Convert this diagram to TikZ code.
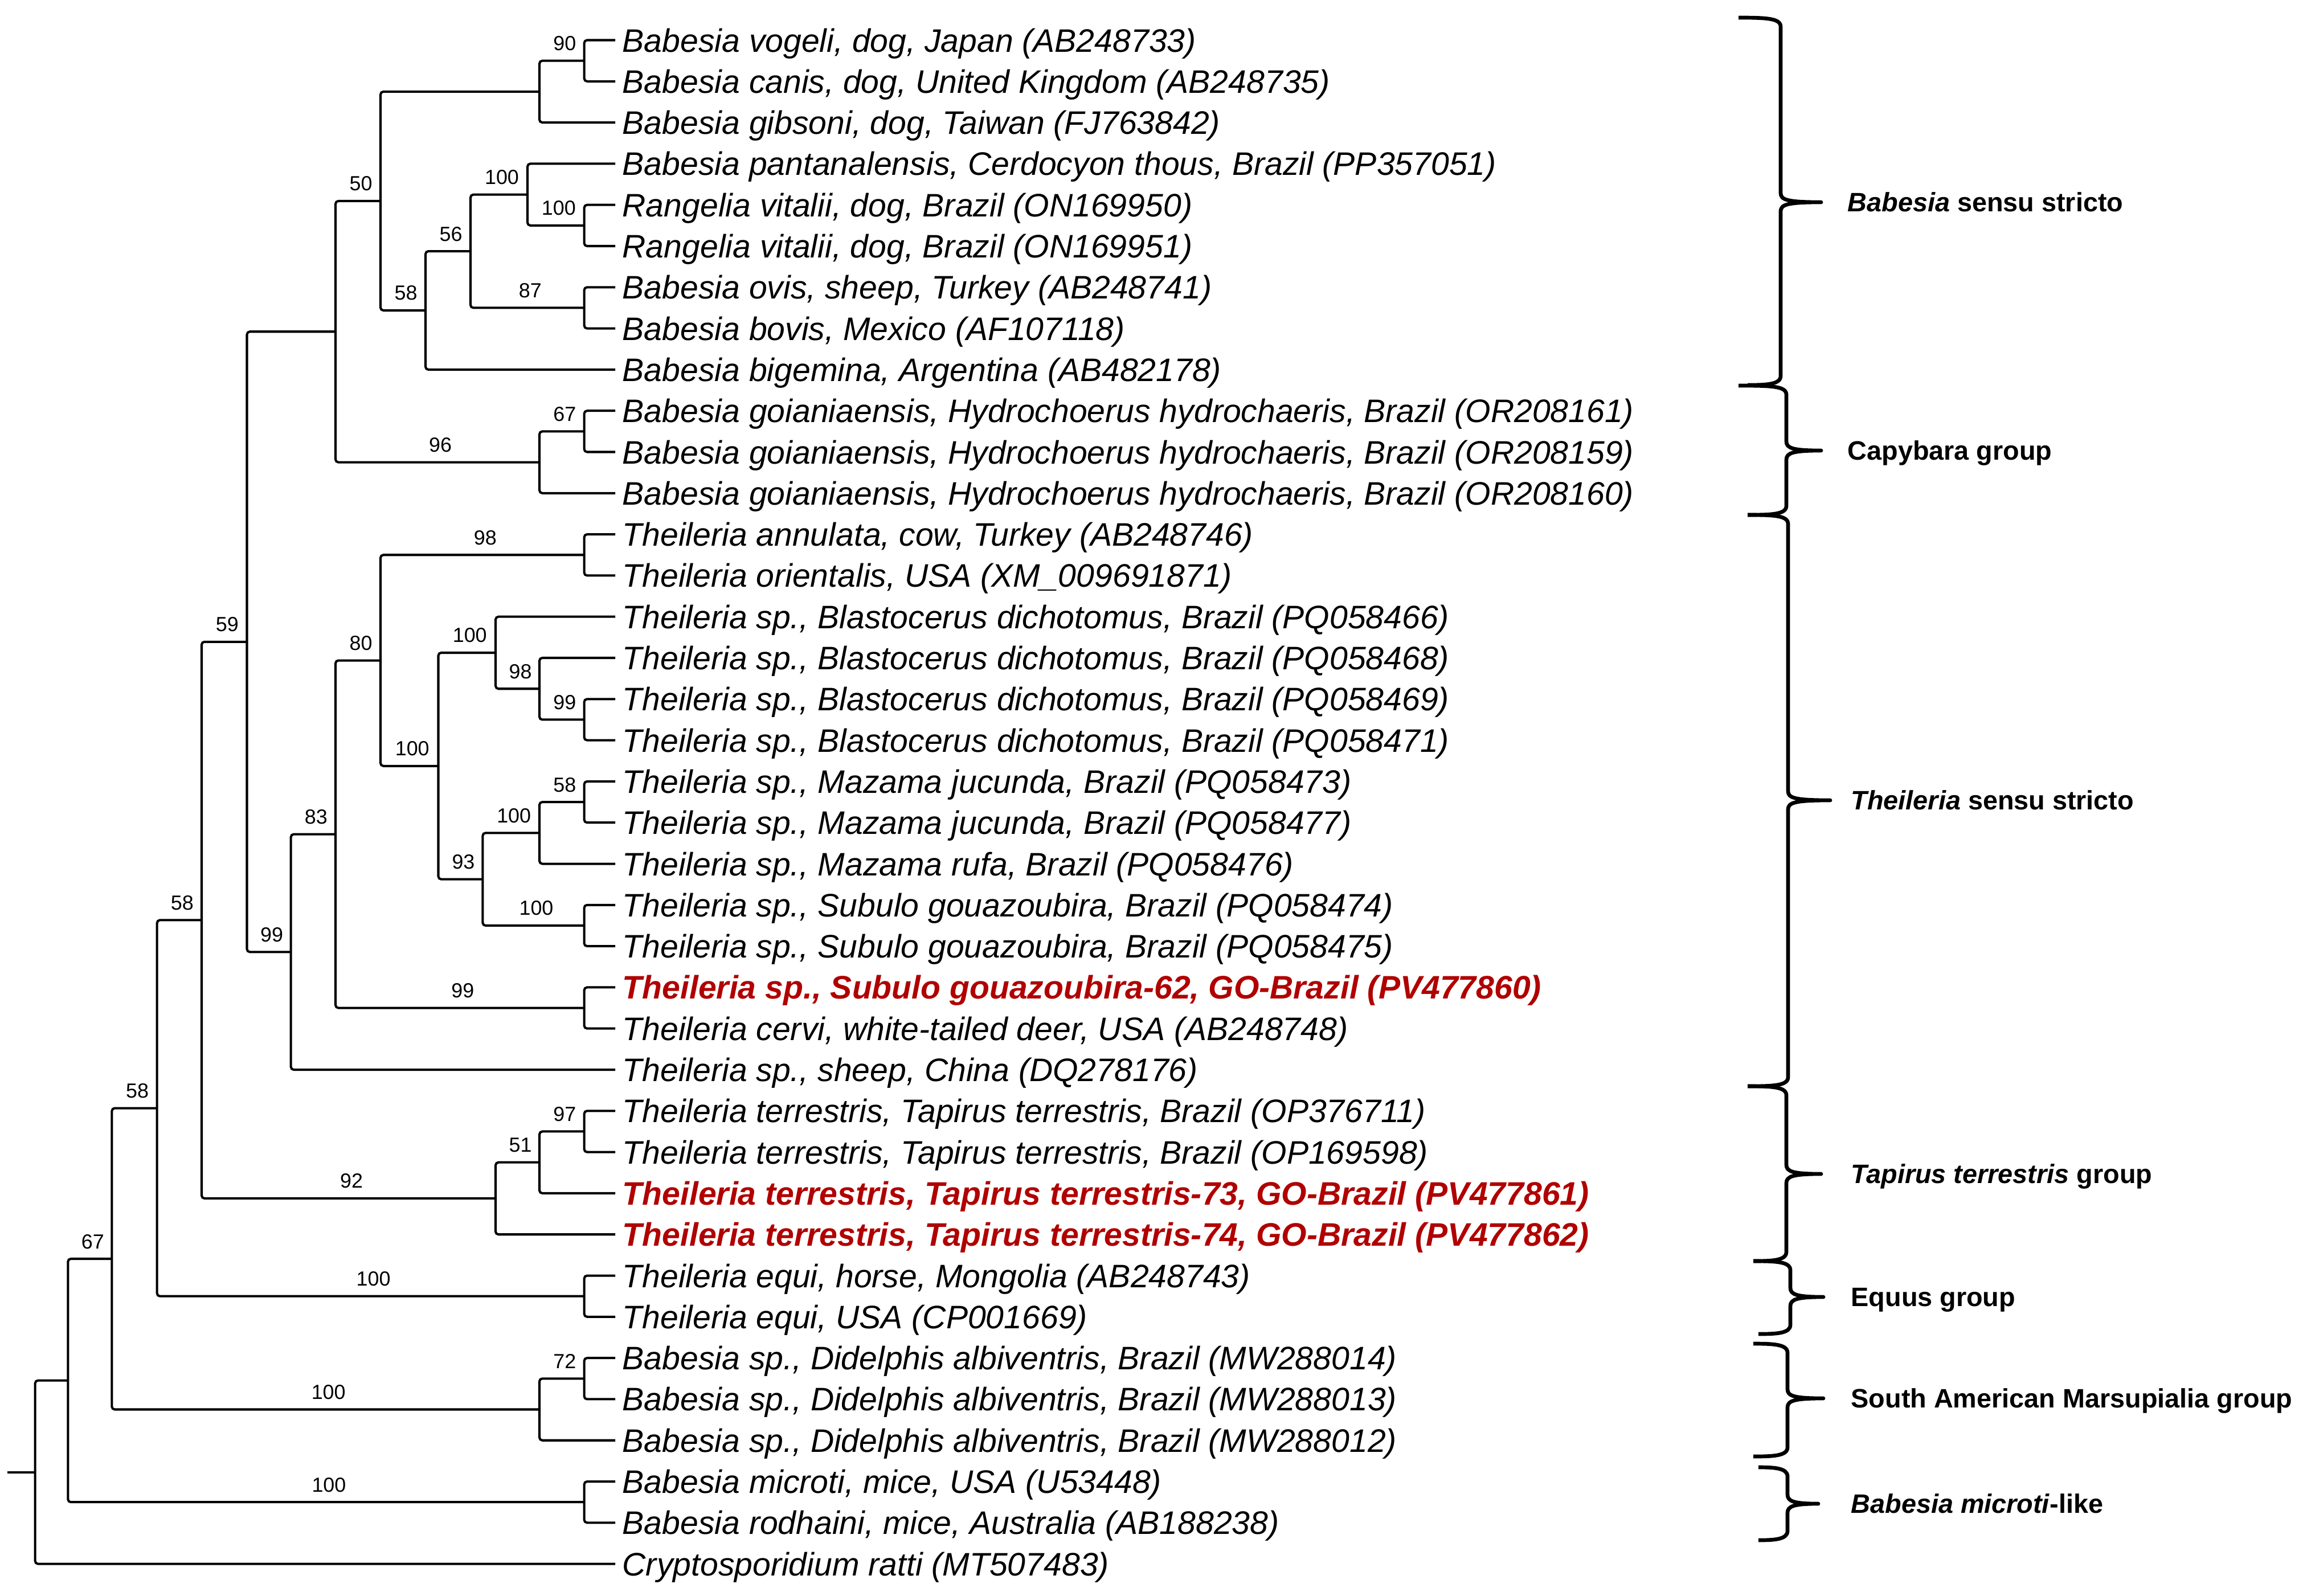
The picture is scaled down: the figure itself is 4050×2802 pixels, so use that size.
\documentclass[tikz,border=0pt]{standalone}
\usepackage{fontspec}
\setmainfont{Liberation Sans}
\usetikzlibrary{calc}
\definecolor{hlred}{RGB}{176,0,0}
\tikzset{
  branch/.style={line width=1.15pt, rounded corners=0.05cm},
  bracestyle/.style={line width=1.9pt, line join=round},
  leaflab/.style={anchor=base west, inner sep=0pt, font=\fontsize{16.25}{19}\selectfont\itshape},
  redlab/.style={anchor=base west, inner sep=0pt, text=hlred, font=\fontsize{16.25}{19}\selectfont\bfseries\itshape},
  bslab/.style={anchor=base, inner sep=0pt, font=\fontsize{10.2}{12}\selectfont, xshift=0.05cm, yshift=0.18cm},
  grplab/.style={anchor=base west, inner sep=0pt, font=\fontsize{13.3}{16}\selectfont\bfseries},
}
% name, x, child1, child2
\newcommand\mkclade[4]{%
  \path ($(#3)!0.5!(#4)$) coordinate (tmpm);
  \coordinate (tmpx) at (#2,0);
  \coordinate (#1) at (tmpx |- tmpm);
  \draw[branch] (#3) -| (#1) |- (#4);
}
% parent, child, value
\newcommand\bsv[3]{\path (#1 |- #2) -- (#2) node[pos=0.5,bslab] (lab#2) {#3};}
% xlt, xlb, xv, xtip, ytop, ytip, ybot
\newcommand\mybrace[7]{%
  \draw[bracestyle] (#1,#5) .. controls ({#3-25},#5) and (#3,{#5+1}) .. (#3,{#5+16})
    -- (#3,{#6-16}) .. controls (#3,{#6-4}) and ({#3+12},#6) .. (#4,#6)
    .. controls ({#3+12},#6) and (#3,{#6+4}) .. (#3,{#6+16})
    -- (#3,{#7-16}) .. controls (#3,{#7-1}) and ({#3-25},#7) .. (#2,#7);
}
\begin{document}
\begin{tikzpicture}[x=0.01cm, y=-0.01cm]
\useasboundingbox (0,0) rectangle (4050,2802);
\foreach \i in {1,...,38} {
  \coordinate (L\i) at (1080, {70.5+(\i-1)*72.3});
}
% tree
\mkclade{nA}{1025.6}{L1}{L2}
\mkclade{nB}{947}{nA}{L3}
\mkclade{n100b}{1025.6}{L5}{L6}
\mkclade{n100a}{926}{L4}{n100b}
\mkclade{n87}{1025.6}{L7}{L8}
\mkclade{n56}{826}{n100a}{n87}
\mkclade{n58a}{747}{n56}{L9}
\mkclade{n50}{668}{nB}{n58a}
\mkclade{n67c}{1025.6}{L10}{L11}
\mkclade{n96}{947}{n67c}{L12}
\mkclade{nBC}{589}{n50}{n96}
\mkclade{n98a}{1025.6}{L13}{L14}
\mkclade{n99b}{1025.6}{L17}{L18}
\mkclade{n98b}{947}{L16}{n99b}
\mkclade{n100d}{870}{L15}{n98b}
\mkclade{n58b}{1025.6}{L19}{L20}
\mkclade{n100e}{947}{n58b}{L21}
\mkclade{n100f}{1025.6}{L22}{L23}
\mkclade{n93}{847.4}{n100e}{n100f}
\mkclade{n100c}{769.5}{n100d}{n93}
\mkclade{n80}{668}{n98a}{n100c}
\mkclade{n99r}{1025.6}{L24}{L25}
\mkclade{n83}{589}{n80}{n99r}
\mkclade{n99t}{510.7}{n83}{L26}
\mkclade{n59}{433.5}{nBC}{n99t}
\mkclade{n97}{1025.6}{L27}{L28}
\mkclade{n51}{947}{n97}{L29}
\mkclade{n92}{870}{n51}{L30}
\mkclade{n58c}{354}{n59}{n92}
\mkclade{nEq}{1025.6}{L31}{L32}
\mkclade{n58d}{275.7}{n58c}{nEq}
\mkclade{n72}{1025.6}{L33}{L34}
\mkclade{nMa}{947}{n72}{L35}
\mkclade{n67}{196.4}{n58d}{nMa}
\mkclade{nMi}{1025.6}{L36}{L37}
\mkclade{nX}{119.3}{n67}{nMi}
\mkclade{root}{61.7}{nX}{L38}
\coordinate (stubx) at (12.6,0);
\coordinate (stub) at (stubx |- root);
\draw[branch] (stub) -- (root);
% bootstrap values
\bsv{nB}{nA}{90}
\bsv{nBC}{n50}{50}
\bsv{n50}{n58a}{58}
\bsv{n58a}{n56}{56}
\bsv{n56}{n100a}{100}
\bsv{n100a}{n100b}{100}
\bsv{n56}{n87}{87}
\bsv{n96}{n67c}{67}
\bsv{nBC}{n96}{96}
\bsv{n58c}{n59}{59}
\bsv{n59}{n99t}{99}
\bsv{n99t}{n83}{83}
\bsv{n83}{n80}{80}
\bsv{n80}{n98a}{98}
\bsv{n80}{n100c}{100}
\bsv{n100c}{n100d}{100}
\bsv{n100d}{n98b}{98}
\bsv{n98b}{n99b}{99}
\bsv{n100c}{n93}{93}
\bsv{n93}{n100e}{100}
\bsv{n100e}{n58b}{58}
\bsv{n93}{n100f}{100}
\bsv{n83}{n99r}{99}
\bsv{n58d}{n58c}{58}
\bsv{n58c}{n92}{92}
\bsv{n92}{n51}{51}
\bsv{n51}{n97}{97}
\bsv{n67}{n58d}{58}
\bsv{n58d}{nEq}{100}
\bsv{nX}{n67}{67}
\bsv{n67}{nMa}{100}
\bsv{nMa}{n72}{72}
\bsv{nX}{nMi}{100}
% leaf labels
\node[leaflab] (T1) at ($(L1)+(12,20.5)$) {Babesia vogeli, dog, Japan (AB248733)};
\node[leaflab] (T2) at ($(L2)+(12,20.5)$) {Babesia canis, dog, United Kingdom (AB248735)};
\node[leaflab] (T3) at ($(L3)+(12,20.5)$) {Babesia gibsoni, dog, Taiwan (FJ763842)};
\node[leaflab] (T4) at ($(L4)+(12,20.5)$) {Babesia pantanalensis, Cerdocyon thous, Brazil (PP357051)};
\node[leaflab] (T5) at ($(L5)+(12,20.5)$) {Rangelia vitalii, dog, Brazil (ON169950)};
\node[leaflab] (T6) at ($(L6)+(12,20.5)$) {Rangelia vitalii, dog, Brazil (ON169951)};
\node[leaflab] (T7) at ($(L7)+(12,20.5)$) {Babesia ovis, sheep, Turkey (AB248741)};
\node[leaflab] (T8) at ($(L8)+(12,20.5)$) {Babesia bovis, Mexico (AF107118)};
\node[leaflab] (T9) at ($(L9)+(12,20.5)$) {Babesia bigemina, Argentina (AB482178)};
\node[leaflab] (T10) at ($(L10)+(12,20.5)$) {Babesia goianiaensis, Hydrochoerus hydrochaeris, Brazil (OR208161)};
\node[leaflab] (T11) at ($(L11)+(12,20.5)$) {Babesia goianiaensis, Hydrochoerus hydrochaeris, Brazil (OR208159)};
\node[leaflab] (T12) at ($(L12)+(12,20.5)$) {Babesia goianiaensis, Hydrochoerus hydrochaeris, Brazil (OR208160)};
\node[leaflab] (T13) at ($(L13)+(12,20.5)$) {Theileria annulata, cow, Turkey (AB248746)};
\node[leaflab] (T14) at ($(L14)+(12,20.5)$) {Theileria orientalis, USA (XM\_009691871)};
\node[leaflab] (T15) at ($(L15)+(12,20.5)$) {Theileria sp., Blastocerus dichotomus, Brazil (PQ058466)};
\node[leaflab] (T16) at ($(L16)+(12,20.5)$) {Theileria sp., Blastocerus dichotomus, Brazil (PQ058468)};
\node[leaflab] (T17) at ($(L17)+(12,20.5)$) {Theileria sp., Blastocerus dichotomus, Brazil (PQ058469)};
\node[leaflab] (T18) at ($(L18)+(12,20.5)$) {Theileria sp., Blastocerus dichotomus, Brazil (PQ058471)};
\node[leaflab] (T19) at ($(L19)+(12,20.5)$) {Theileria sp., Mazama jucunda, Brazil (PQ058473)};
\node[leaflab] (T20) at ($(L20)+(12,20.5)$) {Theileria sp., Mazama jucunda, Brazil (PQ058477)};
\node[leaflab] (T21) at ($(L21)+(12,20.5)$) {Theileria sp., Mazama rufa, Brazil (PQ058476)};
\node[leaflab] (T22) at ($(L22)+(12,20.5)$) {Theileria sp., Subulo gouazoubira, Brazil (PQ058474)};
\node[leaflab] (T23) at ($(L23)+(12,20.5)$) {Theileria sp., Subulo gouazoubira, Brazil (PQ058475)};
\node[redlab] (T24) at ($(L24)+(12,20.5)$) {Theileria sp., Subulo gouazoubira-62, GO-Brazil (PV477860)};
\node[leaflab] (T25) at ($(L25)+(12,20.5)$) {Theileria cervi, white-tailed deer, USA (AB248748)};
\node[leaflab] (T26) at ($(L26)+(12,20.5)$) {Theileria sp., sheep, China (DQ278176)};
\node[leaflab] (T27) at ($(L27)+(12,20.5)$) {Theileria terrestris, Tapirus terrestris, Brazil (OP376711)};
\node[leaflab] (T28) at ($(L28)+(12,20.5)$) {Theileria terrestris, Tapirus terrestris, Brazil (OP169598)};
\node[redlab] (T29) at ($(L29)+(12,20.5)$) {Theileria terrestris, Tapirus terrestris-73, GO-Brazil (PV477861)};
\node[redlab] (T30) at ($(L30)+(12,20.5)$) {Theileria terrestris, Tapirus terrestris-74, GO-Brazil (PV477862)};
\node[leaflab] (T31) at ($(L31)+(12,20.5)$) {Theileria equi, horse, Mongolia (AB248743)};
\node[leaflab] (T32) at ($(L32)+(12,20.5)$) {Theileria equi, USA (CP001669)};
\node[leaflab] (T33) at ($(L33)+(12,20.5)$) {Babesia sp., Didelphis albiventris, Brazil (MW288014)};
\node[leaflab] (T34) at ($(L34)+(12,20.5)$) {Babesia sp., Didelphis albiventris, Brazil (MW288013)};
\node[leaflab] (T35) at ($(L35)+(12,20.5)$) {Babesia sp., Didelphis albiventris, Brazil (MW288012)};
\node[leaflab] (T36) at ($(L36)+(12,20.5)$) {Babesia microti, mice, USA (U53448)};
\node[leaflab] (T37) at ($(L37)+(12,20.5)$) {Babesia rodhaini, mice, Australia (AB188238)};
\node[leaflab] (T38) at ($(L38)+(12,20.5)$) {Cryptosporidium ratti (MT507483)};
% braces
\mybrace{3052}{3068}{3126}{3197}{31}{355}{676}
\mybrace{3052}{3068}{3136}{3197}{677}{791}{904}
\mybrace{3068}{3068}{3139}{3213}{904}{1405}{1907}
\mybrace{3068}{3078}{3136}{3197}{1907}{2061}{2214}
\mybrace{3078}{3087}{3143}{3201}{2214}{2277}{2342}
\mybrace{3078}{3078}{3138}{3201}{2359}{2455}{2557}
\mybrace{3087}{3087}{3138}{3192}{2576}{2640}{2704}
% group labels
\node[grplab] (G1) at (3243,371.7) {\textit{Babesia} sensu stricto};
\node[grplab] (G2) at (3243,807.7) {Capybara group};
\node[grplab] (G3) at (3249,1421.7) {\textit{Theileria} sensu stricto};
\node[grplab] (G4) at (3249,2077.7) {\textit{Tapirus terrestris} group};
\node[grplab] (G5) at (3249,2293.7) {Equus group};
\node[grplab] (G6) at (3249,2471.7) {South American Marsupialia group};
\node[grplab] (G7) at (3249,2656.7) {\textit{Babesia microti}-like};
\end{tikzpicture}
\end{document}
